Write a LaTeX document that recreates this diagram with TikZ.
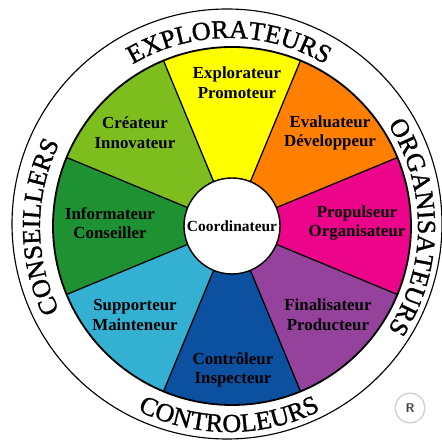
\documentclass[tikz,border=0pt]{standalone}
\usepackage{fontspec}
\setmainfont{Liberation Serif}
\newfontfamily\ringfamily[FakeBold=1.2]{Liberation Serif}
\usepackage{xcolor}
\usepackage{tikz}
\usetikzlibrary{decorations.text}
\definecolor{explyellow}{RGB}{255,255,0}
\definecolor{evalorange}{RGB}{255,128,0}
\definecolor{propmagenta}{RGB}{236,4,138}
\definecolor{finalpurple}{RGB}{148,66,156}
\definecolor{controlblue}{RGB}{12,80,160}
\definecolor{supportcyan}{RGB}{52,176,210}
\definecolor{infogreen}{RGB}{30,145,50}
\definecolor{creatlime}{RGB}{125,190,30}
\newcommand{\ringfont}{\ringfamily\fontsize{18.5}{20}\selectfont}

\begin{document}
\begin{tikzpicture}[x=0.025cm,y=0.025cm,
    role/.style={font=\bfseries\fontsize{12}{14}\selectfont, align=center, inner sep=0pt},
    ringtext/.style={decorate, decoration={text along path, text align=center, text={#1}}}]
                \useasboundingbox (0,0) rectangle (442,441);
                \fill[white] (0,0) rectangle (442,441);
                \coordinate (oc) at (227,217);
                \coordinate (tc) at (229,214);
                \coordinate (wc) at (232,215);
                % Outer ring
                \draw[line width=0.8pt] (oc) circle[radius=215];
                % Sectors
                \foreach \ang/\col in {90/explyellow,45/evalorange,0/propmagenta,-45/finalpurple,
                    -90/controlblue,-135/supportcyan,180/infogreen,135/creatlime}
                    \fill[\col] (wc) -- ++(\ang-22.5:179)
                        arc[start angle=\ang-22.5, end angle=\ang+22.5, radius=179] -- cycle;
                \foreach \ang in {22.5,67.5,...,337.5}
                    \draw[line width=0.9pt] (wc) -- ++(\ang:179);
                \draw[line width=1.3pt] (wc) circle[radius=179];
                % Centre
                \draw[line width=1pt,fill=white] (wc) circle[radius=48];
                \node[font=\bfseries\fontsize{11}{13}\selectfont, inner sep=0pt] (coord) at (232,215) {Coordinateur};
                % Labels
                \node[role] (explo) at (237,358) {Explorateur\\Promoteur};
                \node[role] (evalu) at (330,308) {Evaluateur\\Développeur};
                \node[role] (propu) at (357,218) {Propulseur\\Organisateur};
                \node[role] (final) at (328,126) {Finalisateur\\Producteur};
                \node[role] (contr) at (233,71) {Contrôleur\\Inspecteur};
                \node[role] (suppo) at (135,126) {Supporteur\\Mainteneur};
                \node[role] (infor) at (110,218) {Informateur\\Conseiller};
                \node[role] (creat) at (135,308) {Créateur\\Innovateur};
                % Ring words
                \path[ringtext={|\ringfont|EXPLORATEURS}] (tc) ++(150:189) arc[start angle=150, end angle=30, radius=189];
                \path[ringtext={|\ringfont|ORGANISATEURS}] (tc) ++(60:189) arc[start angle=60, end angle=-60, radius=189];
                \path[ringtext={|\ringfont|CONSEILLERS}] (tc) ++(240:189) arc[start angle=240, end angle=120, radius=189];
                \path[ringtext={|\ringfont|CONTROLEURS}] (tc) ++(210:205) arc[start angle=210, end angle=330, radius=205];
                % Registered mark
                \node[draw=gray!35, line width=1pt, circle, minimum size=21pt, inner sep=0pt,
                    font=\sffamily\bfseries\small, text=black!75] (regmark) at (410,33) {R};
            \end{tikzpicture}
\end{document}
